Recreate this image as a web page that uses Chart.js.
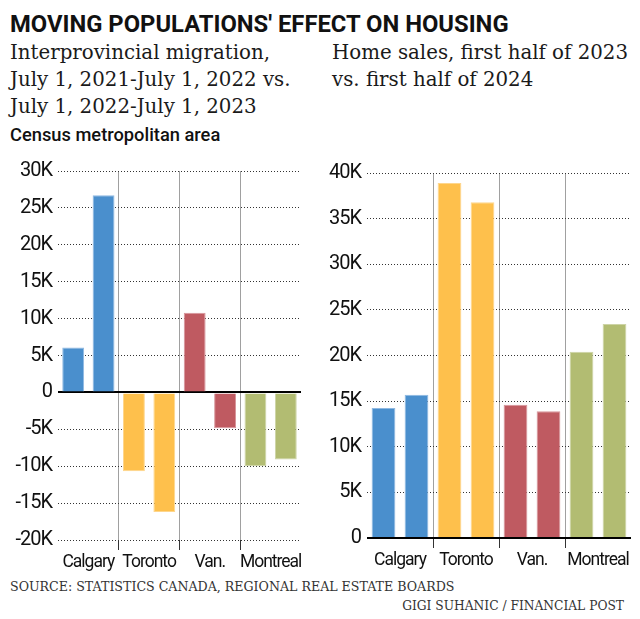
<!DOCTYPE html>
<html>
<head>
<meta charset="utf-8">
<script src="https://cdn.jsdelivr.net/npm/chart.js@4.4.0/dist/chart.umd.min.js"></script>
<style>
  html, body { margin:0; padding:0; background:#fff; }
  body { width:640px; height:619px; position:relative; overflow:hidden; }
  .t { position:absolute; white-space:nowrap; color:#111; }
  #title { left:10px; font-family:Roboto,sans-serif; font-weight:bold; }
  .sub { font-family:"DejaVu Serif",serif; font-size:19.8px; line-height:26.75px; color:#1a1a1a; }
  #sub1 { left:10px; top:40.3px; }
  #sub2 { left:332px; top:40.3px; }
  #unit { left:10px; top:124.7px; font-family:Roboto,sans-serif; font-weight:500; font-size:18.3px; line-height:20px; }
  .src { font-family:"DejaVu Serif",serif; color:#333; }
  #source { left:10px; }
  #credit { right:16px; }
  canvas { position:absolute; }
  #c1 { left:0px; top:151px; }
  #c2 { left:320px; top:153px; }
</style>
</head>
<body>
<div class="t" id="title">MOVING POPULATIONS' EFFECT ON HOUSING</div>
<div class="t sub" id="sub1">Interprovincial migration,<br>July 1, 2021-July 1, 2022 vs.<br>July 1, 2022-July 1, 2023</div>
<div class="t sub" id="sub2">Home sales, first half of 2023<br>vs. first half of 2024</div>
<div class="t" id="unit">Census metropolitan area</div>
<div class="t src" id="source">SOURCE: STATISTICS CANADA, REGIONAL REAL ESTATE BOARDS</div>
<div class="t src" id="credit">GIGI SUHANIC / FINANCIAL POST</div>
<canvas id="c1" width="320" height="429"></canvas>
<canvas id="c2" width="320" height="425"></canvas>
<script>
// ---- data ----
const categories = ['Calgary', 'Toronto', 'Van.', 'Montreal'];
const migration2122 = [6100, -10700, 10800, -10000];   // July 1, 2021 - July 1, 2022
const migration2223 = [26700, -16200, -4850, -9100];   // July 1, 2022 - July 1, 2023
const sales2023 = [14250, 38900, 14600, 20400];        // first half of 2023
const sales2024 = [15700, 36800, 13900, 23450];        // first half of 2024
const migrationTicks = { min: -20000, max: 30000, step: 5000 };
const salesTicks = { min: 0, max: 40000, step: 5000 };
const cityColors = ['#4a8fcd', '#fec04c', '#bf5a61', '#b2bc72'];
const cityEdges = ['#8fb9e2', '#fed68c', '#d7959a', '#cdd4a6'];

// size a text line so that it spans a target width, and place its baseline
function fitText(id, targetWidth, baseline, ascentRatio, halfLeadRatio) {
  const el = document.getElementById(id);
  const base = 20;
  el.style.fontSize = base + 'px';
  el.style.lineHeight = base + 'px';
  const w = el.getBoundingClientRect().width;
  const f = base * targetWidth / w;
  el.style.fontSize = f + 'px';
  el.style.lineHeight = f + 'px';
  el.style.top = (baseline - f * (ascentRatio + halfLeadRatio)) + 'px';
}
// Roboto: ascent .928, descent .244 ; DejaVu Serif: ascent .928, descent .236
fitText('title', 499, 33, 0.928, (1 - 1.172) / 2);
fitText('source', 445, 592, 0.928, (1 - 1.164) / 2);
fitText('credit', 222, 610, 0.928, (1 - 1.164) / 2);

const fam = 'Roboto, sans-serif';
function kLabel(v) { return v === 0 ? '0' : (v / 1000) + 'K'; }

const tightText = {
  id: 'tightText',
  beforeDraw(chart) { chart.ctx.letterSpacing = '-1px'; }
};

function makeChart(id, d1, d2, tk, padRight, yWidth) {
  return new Chart(document.getElementById(id), {
    type: 'bar',
    data: {
      labels: categories,
      datasets: [
        { data: d1, backgroundColor: cityColors, borderColor: cityEdges, borderWidth: 1, barPercentage: 0.72, categoryPercentage: 1.0 },
        { data: d2, backgroundColor: cityColors, borderColor: cityEdges, borderWidth: 1, barPercentage: 0.72, categoryPercentage: 1.0 }
      ]
    },
    plugins: [tightText],
    options: {
      responsive: false,
      animation: false,
      layout: { padding: { top: 20, right: padRight, left: 0, bottom: 0 } },
      plugins: { legend: { display: false }, tooltip: { enabled: false } },
      scales: {
        x: {
          grid: {
            offset: true,
            color: c => (c.type === 'tick' && c.index > 0) ? '#a0a0a0' : 'rgba(0,0,0,0)',
            tickColor: c => (c.type === 'tick' && c.index > 0) ? '#333' : 'rgba(0,0,0,0)',
            tickLength: 10,
            lineWidth: 1
          },
          border: { display: false },
          ticks: { font: { family: fam, size: 17.5 }, color: '#111', padding: 2, maxRotation: 0, autoSkip: false },
          afterFit: s => { s.height = 40; }
        },
        y: {
          min: tk.min, max: tk.max,
          ticks: { stepSize: tk.step, callback: kLabel, font: { family: fam, size: 20 }, color: '#111', padding: 6 },
          grid: {
            drawTicks: false,
            color: c => (c.tick && c.tick.value === 0) ? '#000' : '#333',
            lineWidth: c => (c.tick && c.tick.value === 0) ? 2 : 1
          },
          border: { display: false, dash: c => (c.tick && c.tick.value === 0) ? [] : [1, 2] },
          afterFit: s => { s.width = yWidth; }
        }
      }
    }
  });
}

makeChart('c1', migration2122, migration2223, migrationTicks, 19, 58);
makeChart('c2', sales2023, sales2024, salesTicks, 9, 47);
</script>
</body>
</html>
